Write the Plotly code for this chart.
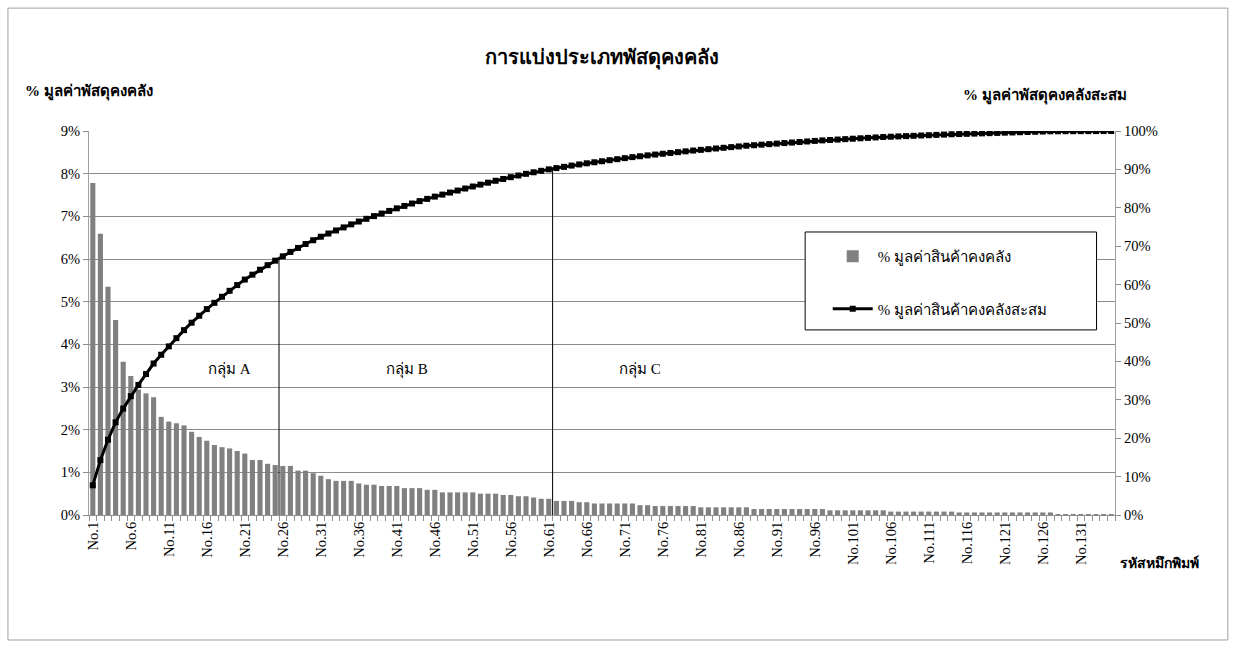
import numpy as np
import plotly.graph_objects as go

# ---------------- data ----------------
item_codes = ["No.%d" % i for i in range(1, 136)]

value_share = [
    7.78, 6.59, 5.35, 4.57, 3.59, 3.26, 2.94, 2.85, 2.76, 2.30,
    2.19, 2.15, 2.10, 1.95, 1.83, 1.74, 1.64, 1.59, 1.56, 1.50,
    1.44, 1.29, 1.29, 1.20, 1.17, 1.15, 1.15, 1.04, 1.04, 0.98,
    0.92, 0.84, 0.80, 0.80, 0.80, 0.74, 0.71, 0.71, 0.68, 0.68,
    0.68, 0.63, 0.63, 0.63, 0.59, 0.59, 0.53, 0.53, 0.53, 0.53,
    0.53, 0.50, 0.50, 0.50, 0.47, 0.47, 0.44, 0.44, 0.41, 0.38,
    0.38, 0.33, 0.33, 0.33, 0.30, 0.30, 0.27, 0.27, 0.27, 0.27,
    0.27, 0.27, 0.23, 0.23, 0.21, 0.21, 0.21, 0.21, 0.21, 0.21,
    0.18, 0.18, 0.18, 0.18, 0.18, 0.18, 0.18, 0.14, 0.14, 0.14,
    0.14, 0.14, 0.14, 0.14, 0.14, 0.14, 0.14, 0.11, 0.11, 0.11,
    0.11, 0.11, 0.11, 0.11, 0.11, 0.08, 0.08, 0.08, 0.08, 0.08,
    0.08, 0.08, 0.08, 0.08, 0.06, 0.06, 0.06, 0.06, 0.06, 0.06,
    0.06, 0.06, 0.06, 0.06, 0.06, 0.06, 0.06, 0.01, 0.01, 0.01,
    0.01, 0.01, 0.01, 0.01, 0.01,
]

group_a_last = 25   # last item of group A (No.25)
group_b_last = 61   # last item of group B (No.61)

left_ticks = [0, 1, 2, 3, 4, 5, 6, 7, 8, 9]
right_ticks = [0, 10, 20, 30, 40, 50, 60, 70, 80, 90, 100]
x_tick_every = 5

title_text = "การแบ่งประเภทพัสดุคงคลัง"
left_title = "% มูลค่าพัสดุคงคลัง"
right_title = "% มูลค่าพัสดุคงคลังสะสม"
x_title = "รหัสหมึกพิมพ์"
bar_name = "% มูลค่าสินค้าคงคลัง"
line_name = "% มูลค่าสินค้าคงคลังสะสม"
group_labels = ["กลุ่ม A", "กลุ่ม B", "กลุ่ม C"]

# ---------------- derived ----------------
pos = np.arange(1, len(item_codes) + 1)
vals = np.array(value_share)
cumulative = np.cumsum(vals) / vals.sum() * 100.0

FONT = "Liberation Serif, Times New Roman, serif"

fig = go.Figure()
fig.add_trace(go.Bar(
    x=pos, y=vals, name=bar_name, marker_color="#808080",
    marker_line_width=0, legendgroup="a",
))
fig.add_trace(go.Scatter(
    x=pos, y=cumulative, name=line_name, yaxis="y2", mode="lines+markers",
    line=dict(color="black", width=3),
    marker=dict(symbol="square", size=6, color="black"),
    legendgroup="b",
))

# boundary lines between groups
for last in (group_a_last, group_b_last):
    top = (cumulative[last - 1] + cumulative[last]) / 2.0
    fig.add_shape(type="line", xref="x", yref="y2",
                  x0=last + 0.5, x1=last + 0.5, y0=0, y1=top,
                  line=dict(color="black", width=1), layer="above")

# legend frame
fig.add_shape(type="rect", xref="paper", yref="paper",
              x0=0.698, x1=0.982, y0=0.482, y1=0.737,
              line=dict(color="black", width=1), fillcolor="white", layer="above")

# outer chart border
fig.add_shape(type="rect", xref="paper", yref="paper",
              x0=-0.079, x1=1.110, y0=-0.3255, y1=1.320,
              line=dict(color="#a0a0a0", width=1), fillcolor="rgba(0,0,0,0)")

ann = [
    dict(text=left_title, xref="paper", yref="paper", x=0.0, y=1.1016,
         xanchor="center", yanchor="middle", showarrow=False,
         font=dict(size=15, family=FONT, color="black"), ),
    dict(text=right_title, xref="paper", yref="paper", x=0.932, y=1.091,
         xanchor="center", yanchor="middle", showarrow=False,
         font=dict(size=15, family=FONT, color="black")),
    dict(text=x_title, xref="paper", yref="paper", x=1.003, y=-0.125,
         xanchor="left", yanchor="middle", showarrow=False,
         font=dict(size=14, family=FONT, color="black")),
]
for lbl, gx in zip(group_labels, (19.0, 42.4, 73.0)):
    ann.append(dict(text=lbl, xref="x", yref="y", x=gx, y=3.4,
                    xanchor="center", yanchor="middle", showarrow=False,
                    font=dict(size=15, family=FONT, color="black")))
for a in ann[:3]:
    a["text"] = "<b>" + a["text"] + "</b>"

fig.update_layout(
    width=1237, height=648,
    margin=dict(l=89, r=122, t=131, b=133),
    paper_bgcolor="white", plot_bgcolor="white",
    font=dict(family=FONT, color="black", size=14),
    title=dict(text="<b>" + title_text + "</b>", x=0.5, xref="paper",
               y=1 - 57 / 648, yref="container", xanchor="center", yanchor="middle",
               font=dict(size=20, family=FONT, color="black")),
    bargap=0.33,
    showlegend=True,
    legend=dict(x=0.72, y=0.716, xanchor="left", yanchor="top",
                bgcolor="rgba(0,0,0,0)", borderwidth=0,
                font=dict(size=15, family=FONT, color="black"),
                tracegroupgap=30, traceorder="grouped", itemwidth=40),
    annotations=ann,
    xaxis=dict(
        range=[0.5, len(item_codes) + 0.5],
        tickmode="array",
        tickvals=list(pos[::x_tick_every]),
        ticktext=item_codes[::x_tick_every],
        tickangle=-90,
        ticks="",
        tickfont=dict(size=14.5, family=FONT, color="black"),
        showgrid=False, zeroline=False,
        showline=True, linecolor="#909090", linewidth=1,
        minor=dict(ticks="outside", tick0=0.5, dtick=1, ticklen=5,
                   tickcolor="#909090", showgrid=False),
    ),
    yaxis=dict(
        range=[0, 9], tickmode="array", tickvals=left_ticks,
        ticktext=["%d%%" % t for t in left_ticks],
        ticks="outside", ticklen=5, tickcolor="#909090",
        showgrid=True, gridcolor="#8c8c8c", gridwidth=1,
        showline=True, linecolor="#a0a0a0", linewidth=1, zeroline=False,
        tickfont=dict(size=14.5, family=FONT, color="black"),
    ),
    yaxis2=dict(
        range=[0, 100], overlaying="y", side="right",
        tickmode="array", tickvals=right_ticks,
        ticktext=["%d%%" % t for t in right_ticks],
        ticks="outside", ticklen=5, tickcolor="#909090",
        showgrid=False, zeroline=False,
        showline=True, linecolor="#a0a0a0", linewidth=1,
        tickfont=dict(size=14.5, family=FONT, color="black"),
    ),
)

fig.write_html("out.html", config={"displayModeBar": False},
               post_script="document.body.style.margin='0';")
